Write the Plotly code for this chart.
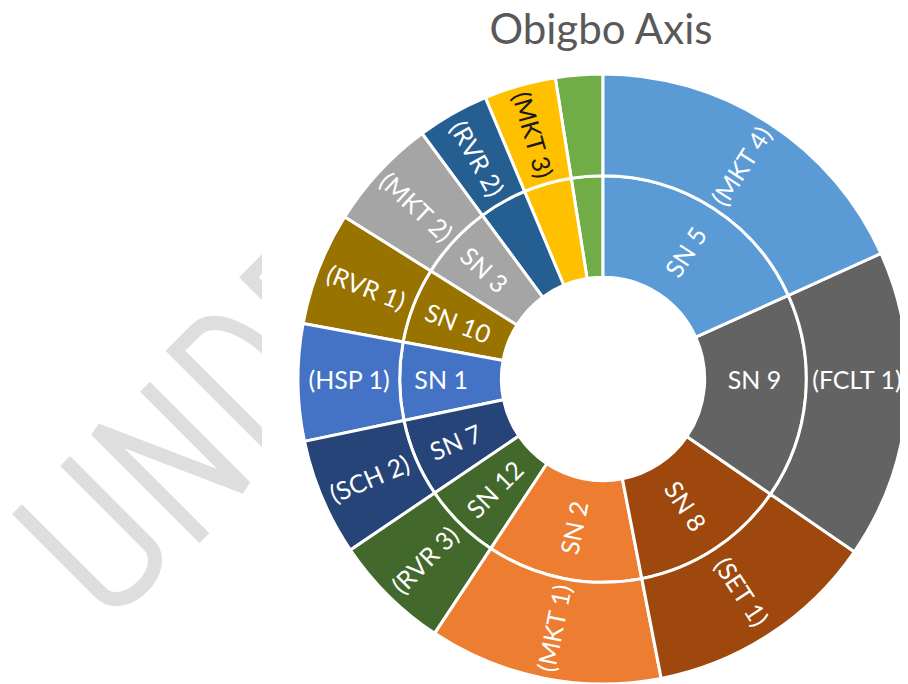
import math
import plotly.graph_objects as go

# Inner ring (clockwise from 12 o'clock, as drawn)
inner_labels = ["SN 5", "SN 9", "SN 8", "SN 2", "SN 12", "SN 7", "SN 1",
                "SN 10", "SN 3", "SN 4", "SN 6", "SN 11"]
inner_shown = [True, True, True, True, True, True, True, True, True, False, False, False]
# Outer ring (one child per inner sector)
outer_labels = ["(MKT 4)", "(FCLT 1)", "(SET 1)", "(MKT 1)", "(RVR 3)", "(SCH 2)",
                "(HSP 1)", "(RVR 1)", "(MKT 2)", "(RVR 2)", "(MKT 3)", "(SCH 1)"]
outer_shown = [True, True, True, True, True, True, True, True, True, True, True, False]
values = [65.7, 58.8, 44.5, 44.5, 22.4, 22.3, 22.3, 21.6, 21.5, 13.7, 13.7, 9.0]
colors = ["#5B9BD5", "#636363", "#9E480E", "#ED7D31", "#43682B", "#264478",
          "#4472C4", "#997300", "#A5A5A5", "#255E91", "#FFC000", "#70AD47"]
outer_text_colors = ["white"] * 10 + ["#1a1a1a", "white"]
title_text = "Obigbo Axis"

# Plotly sunburst runs counter-clockwise, so feed sectors in reverse order
order = list(range(len(inner_labels)))[::-1]

ids = ["root"]
labels = [""]
parents = [""]
vals = [sum(values)]
texts = [""]
mcolors = ["white"]
tcolors = ["white"]
for i in order:
    ids.append(inner_labels[i])
    labels.append(inner_labels[i])
    parents.append("root")
    vals.append(values[i])
    texts.append(inner_labels[i] if inner_shown[i] else "")
    mcolors.append(colors[i])
    tcolors.append("white")
for i in order:
    ids.append(inner_labels[i] + "/" + outer_labels[i])
    labels.append(outer_labels[i])
    parents.append(inner_labels[i])
    vals.append(values[i])
    texts.append(outer_labels[i] if outer_shown[i] else "")
    mcolors.append(colors[i])
    tcolors.append(outer_text_colors[i])

W, H = 900, 676  # figure size (page has 8px body margin)
OFF = 8

fig = go.Figure(go.Sunburst(
    ids=ids, labels=labels, parents=parents, values=vals,
    branchvalues="total", sort=False, rotation=90,
    text=texts, textinfo="text",
    insidetextorientation="radial",
    insidetextfont=dict(family="Lato", size=25, color=tcolors),
    marker=dict(colors=mcolors, line=dict(color="white", width=3)),
    leaf=dict(opacity=1),
    domain=dict(x=[290 / W, 1.0], y=[0, 1 - 66 / H]),
))

# ---- faint diagonal watermark (decoration, partly covered by the chart frame) ----
S2 = math.sqrt(2)


def to_paper(u, v):
    # letter frame: u along the 45deg baseline, v towards the letter top
    px = (u - v) / S2
    py = (-u - v) / S2
    return (px - OFF) / W, 1 - (py - OFF) / H


def path(cmds):
    out = []
    for c in cmds:
        if isinstance(c, str):
            out.append(c)
        else:
            x, y = to_paper(*c)
            out.append(f"{x:.5f},{y:.5f}")
    return " ".join(out)


TOP, BOT = -372, -518
letters = [
    # U
    ["M", (-348, TOP), "L", (-348, -490), "C", (-348, -524), (-280, -524), (-280, -490),
     "L", (-280, TOP)],
    # N
    ["M", (-236, -525), "L", (-236, TOP), "L", (-171, BOT), "L", (-171, TOP - 4)],
    # D
    ["M", (-124, TOP), "L", (-124, BOT), "L", (-95, BOT), "C", (-45, BOT), (-45, TOP),
     (-95, TOP), "Z"],
    # E
    ["M", (45, TOP), "L", (-20, TOP), "L", (-20, BOT), "L", (45, BOT),
     "M", (-20, -445), "L", (35, -445)],
]
shapes = []
for cmds in letters:
    shapes.append(dict(type="path", xref="paper", yref="paper", layer="below",
                       path=path(cmds), line=dict(color="#dedede", width=14),
                       fillcolor="rgba(0,0,0,0)"))
# white chart frame that hides the rest of the watermark
shapes.append(dict(type="rect", xref="paper", yref="paper", layer="below",
                   x0=(262 - OFF) / W, x1=1.05, y0=-0.05, y1=1.05,
                   line=dict(width=0), fillcolor="white"))

fig.update_layout(
    width=W, height=H,
    margin=dict(l=0, r=0, t=0, b=0),
    paper_bgcolor="white", plot_bgcolor="white",
    title=dict(text=title_text, x=593 / W, xanchor="center", y=1 - 7 / H, yanchor="top",
               font=dict(family="Lato", size=42, color="#595959")),
    shapes=shapes,
)

fig.write_html("out.html")
